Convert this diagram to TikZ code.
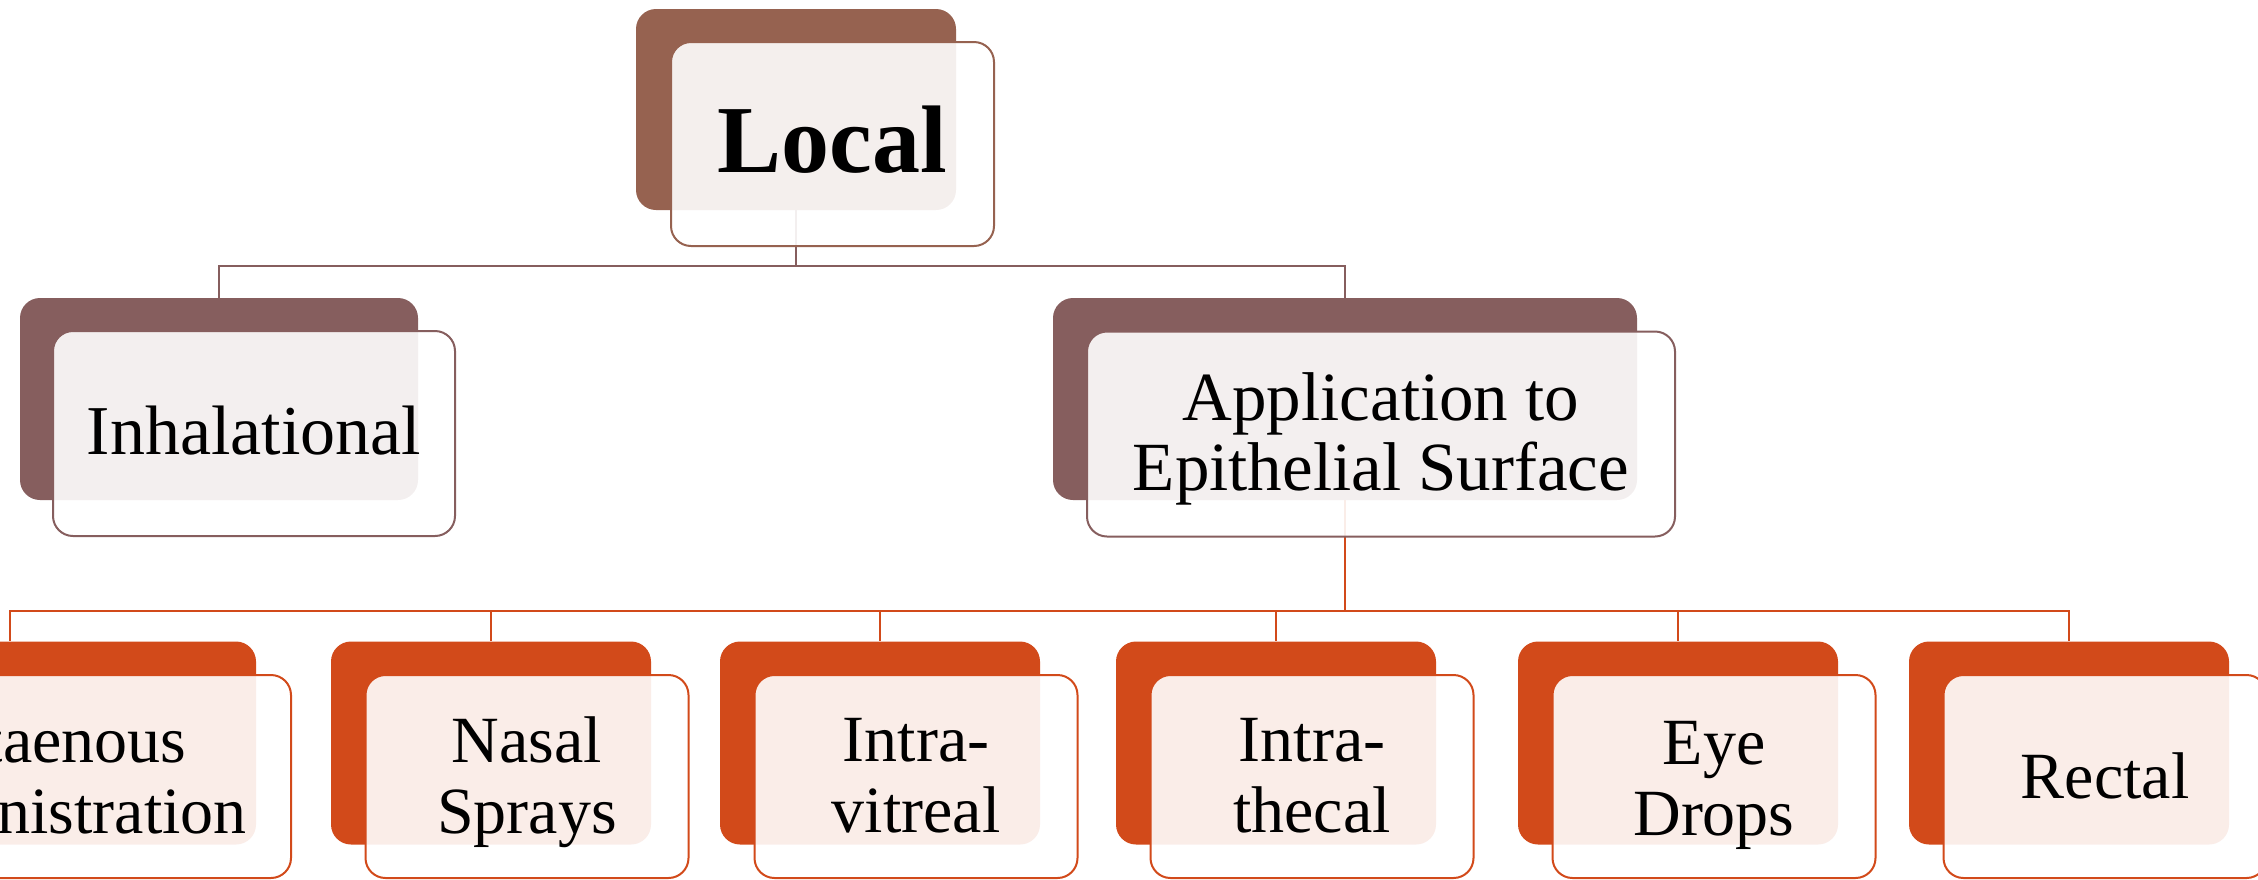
\documentclass[tikz,border=0pt]{standalone}
\usepackage{fontspec}
\setmainfont{Liberation Serif}
\definecolor{brA}{RGB}{150,98,80}
\definecolor{brB}{RGB}{134,94,94}
\definecolor{orC}{RGB}{210,74,26}
\tikzset{
  backbox/.style={rectangle, rounded corners=20pt, fill=#1, inner sep=0pt},
  frontbox/.style={rectangle, rounded corners=20pt, draw=#1, line width=2pt,
    fill=white, fill opacity=0.9, inner sep=0pt},
  conn/.style={draw=#1, line width=2.5pt},
  lbl/.style={align=center, inner sep=0pt, text=black},
  big/.style={lbl, font=\fontsize{96}{96}\selectfont\bfseries},
  mid/.style={lbl, font=\fontsize{69}{70}\selectfont},
  small/.style={lbl, font=\fontsize{66}{71}\selectfont},
  topsz/.style={minimum width=320pt, minimum height=201pt},
  midsz/.style={minimum width=#1, minimum height=202pt},
  botsz/.style={minimum width=#1, minimum height=203pt},
}
\begin{document}
\begin{tikzpicture}[x=1pt,y=-1pt]
\useasboundingbox (0,0) rectangle (2258,879);
\clip (0,0) rectangle (2258,879);
% back boxes
\node[backbox=brA, topsz] (bLocal) at (796,109.5) {};
\node[backbox=brB, midsz=398pt] (bInh) at (219,399) {};
\node[backbox=brB, midsz=584pt] (bApp) at (1345,399) {};
\node[backbox=orC, botsz=492pt] (bCut) at (10,743) {};
\node[backbox=orC, botsz=320pt] (bNas) at (491,743) {};
\node[backbox=orC, botsz=320pt] (bVit) at (880,743) {};
\node[backbox=orC, botsz=320pt] (bThe) at (1276,743) {};
\node[backbox=orC, botsz=320pt] (bEye) at (1678,743) {};
\node[backbox=orC, botsz=320pt] (bRec) at (2069,743) {};
% connectors
\coordinate (h1) at (796,266);
\coordinate (h2) at (1345,611);
\draw[conn=brB] (bLocal.south) -- (h1) -| (bInh.north);
\draw[conn=brB] (h1) -| (bApp.north);
\draw[conn=orC] (bApp.south) -- (h2);
\draw[conn=orC] (h2) -| (bCut.north);
\draw[conn=orC] (h2) -| (bNas.north);
\draw[conn=orC] (h2) -| (bVit.north);
\draw[conn=orC] (h2) -| (bThe.north);
\draw[conn=orC] (h2) -| (bEye.north);
\draw[conn=orC] (h2) -| (bRec.north);
% front boxes
\node[frontbox=brA, minimum width=323pt, minimum height=204pt] (fLocal) at (832.5,144) {};
\node[frontbox=brB, midsz=402pt, minimum height=205pt] (fInh) at (254,433.5) {};
\node[frontbox=brB, midsz=588pt, minimum height=205pt] (fApp) at (1381,434) {};
\node[frontbox=orC, botsz=492pt] (fCut) at (45,776.5) {};
\node[frontbox=orC, botsz=323pt] (fNas) at (527,776.5) {};
\node[frontbox=orC, botsz=323pt] (fVit) at (916,776.5) {};
\node[frontbox=orC, botsz=323pt] (fThe) at (1312,776.5) {};
\node[frontbox=orC, botsz=323pt] (fEye) at (1714,776.5) {};
\node[frontbox=orC, botsz=323pt] (fRec) at (2105,776.5) {};
% labels
\node[big] (tLocal) at (832,140) {Local};
\node[mid, font=\fontsize{70}{70}\selectfont] (tInh) at (254,431) {Inhalational};
\node[mid] (tApp) at (1381,438.5) {Application to\\Epithelial Surface};
\node[small] (tCut) at (47,776.5) {Cutaenous\\Administration};
\node[small] (tNas) at (527,782.5) {Nasal\\Sprays};
\node[small] (tVit) at (916,775.5) {Intra-\\vitreal};
\node[small] (tThe) at (1312,775.5) {Intra-\\thecal};
\node[small] (tEye) at (1714,785) {Eye\\Drops};
\node[small] (tRec) at (2105,775.5) {Rectal};
\end{tikzpicture}
\end{document}
